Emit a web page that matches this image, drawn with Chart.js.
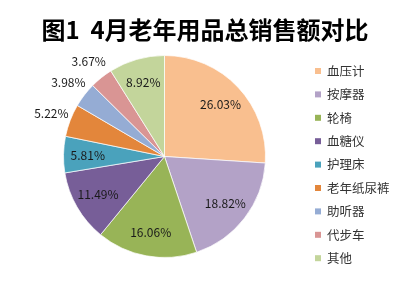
<!DOCTYPE html>
<html><head><meta charset="utf-8">
<script src="https://cdn.jsdelivr.net/npm/chart.js@4/dist/chart.umd.min.js"></script>
<style>html,body{margin:0;padding:0;background:#fff}#wrap{width:417px;height:282px}</style>
</head><body><div id="wrap"><canvas id="c" width="417" height="282"></canvas></div>
<script>
const titleText = '图1  4月老年用品总销售额对比';
const categories = ['血压计','按摩器','轮椅','血糖仪','护理床','老年纸尿裤','助听器','代步车','其他'];
const shares = [26.03, 18.82, 16.06, 11.49, 5.81, 5.22, 3.98, 3.67, 8.92];
const colors = ['#F9BF8F','#B3A2C7','#98B457','#775E98','#4AA2BC','#E3863B','#95ACD4','#D99594','#C3D59B'];
const FONT = '"Noto Sans CJK SC", "Noto Sans", sans-serif';

const textPlugin = {
  id: 'textPlugin',
  afterDatasetsDraw(chart) {
    const ctx = chart.ctx;
    const meta = chart.getDatasetMeta(0);
    ctx.save();
    // slice labels
    ctx.font = '12px ' + FONT;
    ctx.fillStyle = '#1a1a1a';
    ctx.textAlign = 'center';
    ctx.textBaseline = 'middle';
    meta.data.forEach((arc, i) => {
      const p = arc.getProps(['x','y','startAngle','endAngle','outerRadius'], true);
      const mid = (p.startAngle + p.endAngle) / 2;
      const outside = shares[i] < 5.5;
      const r = p.outerRadius * (outside ? 1.2 : 0.76);
      ctx.fillText(shares[i].toFixed(2) + '%', p.x + Math.cos(mid) * r, p.y + Math.sin(mid) * r);
    });
    // title
    ctx.font = 'bold 24px ' + FONT;
    ctx.fillStyle = '#000';
    ctx.fillText(titleText, 205, 30);
    // legend
    ctx.font = '12.5px ' + FONT;
    ctx.textAlign = 'left';
    categories.forEach((c, i) => {
      const y = 71 + i * 23.4;
      ctx.fillStyle = colors[i];
      ctx.fillRect(315, y - 3, 6, 6);
      ctx.fillStyle = '#333';
      ctx.fillText(c, 327, y);
    });
    ctx.restore();
  }
};

new Chart(document.getElementById('c'), {
  type: 'pie',
  data: {
    labels: categories,
    datasets: [{
      data: shares,
      backgroundColor: colors,
      borderColor: 'rgba(255,255,255,0.7)',
      borderWidth: 1
    }]
  },
  options: {
    responsive: false,
    animation: false,
    layout: { padding: { left: 63, right: 151, top: 55, bottom: 24 } },
    plugins: { legend: { display: false }, title: { display: false }, tooltip: { enabled: false } }
  },
  plugins: [textPlugin]
});
</script></body></html>
